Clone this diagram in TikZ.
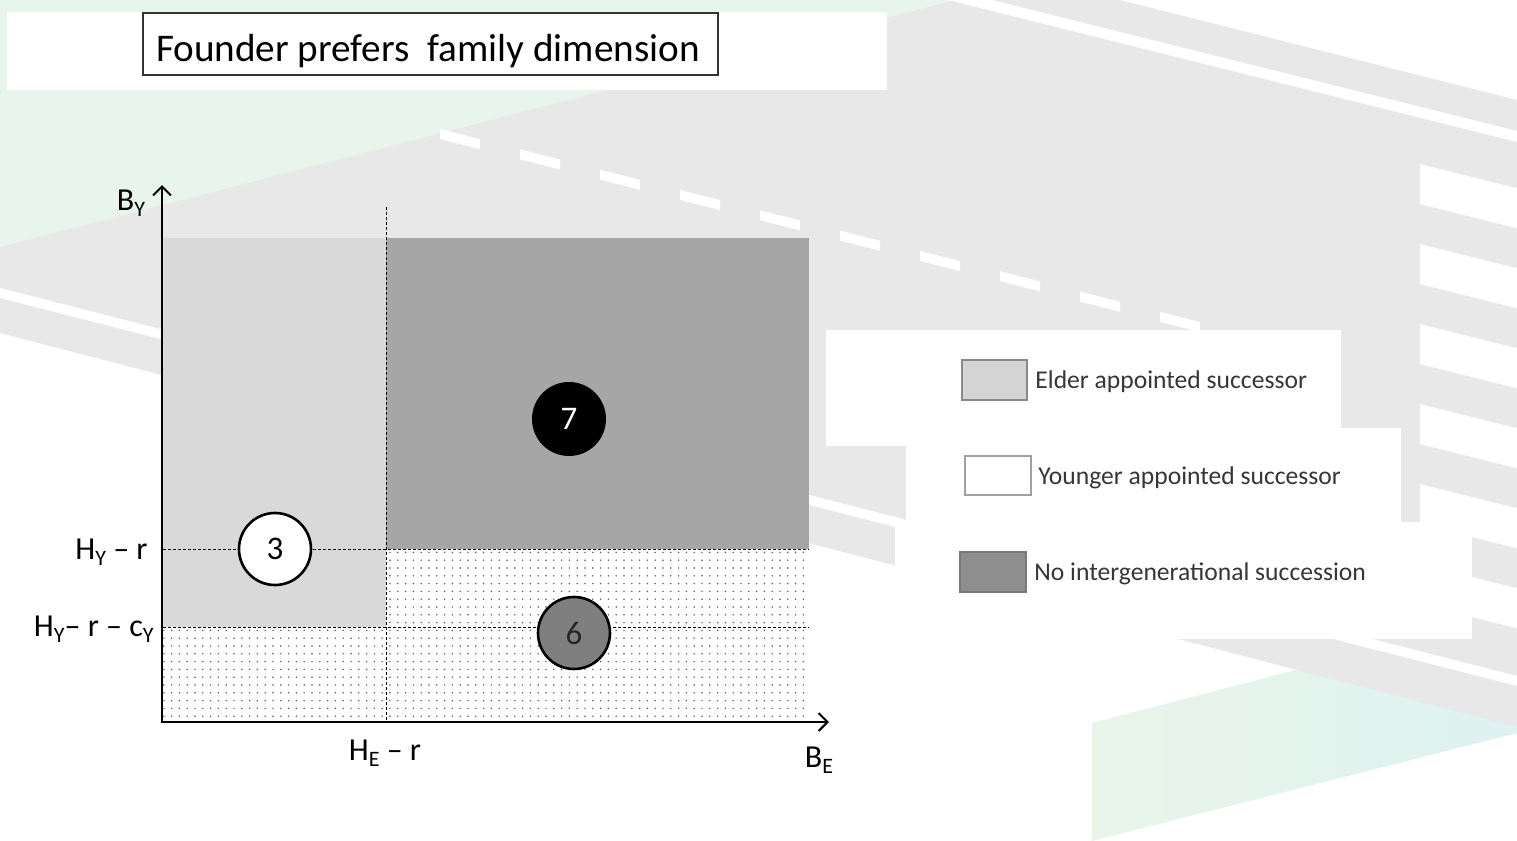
\documentclass[tikz,border=0pt]{standalone}
\usepackage{fontspec}
\setmainfont{Carlito}
\usetikzlibrary{arrows.meta,patterns.meta}
\definecolor{bggrey}{HTML}{E8E8E8}
\definecolor{bggreen}{HTML}{E8F5EC}
\definecolor{greenL}{HTML}{EAF5EA}
\definecolor{cyanR}{HTML}{DDF2F1}
\definecolor{lgrey}{HTML}{D9D9D9}
\definecolor{dgrey}{HTML}{A6A6A6}
\definecolor{mgrey}{HTML}{7F7F7F}
\definecolor{legtext}{HTML}{363636}
\definecolor{swA}{HTML}{D4D4D4}
\definecolor{swC}{HTML}{8E8E8E}
\definecolor{swB}{HTML}{8A8A8A}
\newcommand{\lsub}[1]{\raisebox{-0.4ex}{\fontsize{11}{11}\selectfont #1}}
\begin{document}
\begin{tikzpicture}[x=0.5pt,y=-0.5pt,
  axisline/.style={line width=1pt, line join=miter},
  guide/.style={line width=0.5pt, dash pattern=on 1.5pt off 1pt},
  numcirc/.style={circle, line width=1.3pt, minimum size=36pt, inner sep=0pt, font=\fontsize{16.5}{16.5}\selectfont},
  lbl/.style={font=\fontsize{16}{16}\selectfont, inner sep=0pt},
  legtxt/.style={font=\fontsize{12.8}{13}\selectfont, text=legtext, anchor=base west, inner sep=0pt},
  swatch/.style={line width=0.8pt},
  titlebox/.style={draw=black!80, line width=1pt, minimum width=287.5pt, minimum height=31pt, inner sep=0pt}
]
\useasboundingbox (0,0) rectangle (1517,841);
% ---------- background ----------
\fill[white] (0,0) rectangle (1517,841);
\fill[bggreen] (0,0) -- (955,0) -- (0,247) -- cycle;
\shade[left color=greenL, right color=cyanR] (1092,723) -- (1517,612.5) -- (1517,733) -- (1092,841) -- cycle;
\fill[bggrey] (0,247) -- (955,0) -- (1120,0) -- (1517,100) -- (1517,727) -- (0,333) -- cycle;
\fill[white] (948,0) -- (992,0) -- (1517,131) -- (1517,142) -- cycle;
\fill[white] (0,288) -- (1517,676) -- (1517,686) -- (0,298) -- cycle;
\foreach \k in {0,...,9}{
  \pgfmathsetmacro{\xa}{440+80*\k}
  \pgfmathsetmacro{\xb}{\xa+40}
  \pgfmathsetmacro{\ya}{134+0.254*(\xa-440)}
  \pgfmathsetmacro{\yb}{134+0.254*(\xb-440)}
  \fill[white] (\xa,\ya-5) -- (\xb,\yb-5) -- (\xb,\yb+5) -- (\xa,\ya+5) -- cycle;
}
\foreach \k in {0,...,5}{
  \pgfmathsetmacro{\u}{164+80*\k}
  \fill[white] (1420,\u) -- (1517,\u+24.25) -- (1517,\u+64.25) -- (1420,\u+40) -- cycle;
}
% ---------- title ----------
\fill[white] (7,12) rectangle (887,90);
\node[titlebox] (title) at (430.5,44) {};
\node[font=\fontsize{19.6}{19.6}\selectfont, inner sep=0pt, anchor=base] (titletext) at (428,61) {Founder prefers\ \ family dimension};
% ---------- legend panels ----------
\fill[white] (826,330) rectangle (1341,446);
\fill[white] (906,428) rectangle (1401,522);
\fill[white] (895,522) rectangle (1472,639);
\draw[swatch, draw=swB, fill=swA] (962,360) rectangle (1027,400);
\draw[swatch, draw=swB!80, fill=white] (965,456) rectangle (1031,495);
\draw[swatch, draw=swC!85!black, fill=swC] (960,552) rectangle (1026,592);
\node[legtxt] (leg1) at (1035,388) {Elder appointed successor};
\node[legtxt] (leg2) at (1038,484) {Younger appointed successor};
\node[legtxt] (leg3) at (1034,580) {No intergenerational succession};
% ---------- chart regions ----------
\fill[lgrey] (163,238) rectangle (386,627);
\fill[dgrey] (386,238) rectangle (809,549);
\fill[white] (163,627) rectangle (386,722);
\fill[white] (386,549) rectangle (809,722);
\fill[pattern={Dots[distance=3.9pt,radius=0.42pt]}, pattern color=black!65] (163,627) rectangle (386,722);
\fill[pattern={Dots[distance=3.9pt,radius=0.42pt]}, pattern color=black!65] (386,549) rectangle (809,722);
% guides
\draw[guide] (386,207) -- (386,722);
\draw[guide] (163,549) -- (809,549);
\draw[guide] (163,627) -- (809,627);
% axes
\coordinate (ytip) at (162,185);
\coordinate (O) at (162,722);
\coordinate (xtip) at (829,722);
\draw[axisline, {Straight Barb[length=4.5pt,width=9pt]}-{Straight Barb[length=4.5pt,width=9pt]}] (ytip) -- (O) -- (xtip);
% circles
\node[numcirc, fill=white, draw=black] (c3) at (275,549) {3};
\node[numcirc, fill=black, text=white, minimum size=37pt] (c7) at (569,419) {7};
\node[numcirc, fill=mgrey, draw=black, text=black!85] (c6) at (574,633) {6};
% labels
\node[lbl, anchor=base] (lby) at (131,210) {B\lsub{Y}};
\node[lbl, anchor=base east] (lhyr) at (148,559) {H\lsub{Y} – r};
\node[lbl, anchor=base east] (lhyrc) at (154,636) {H\lsub{Y}– r – c\lsub{Y}};
\node[lbl, anchor=base] (lher) at (385,760) {H\lsub{E} – r};
\node[lbl, anchor=base] (lbe) at (819,767) {B\lsub{E}};
\end{tikzpicture}
\end{document}
